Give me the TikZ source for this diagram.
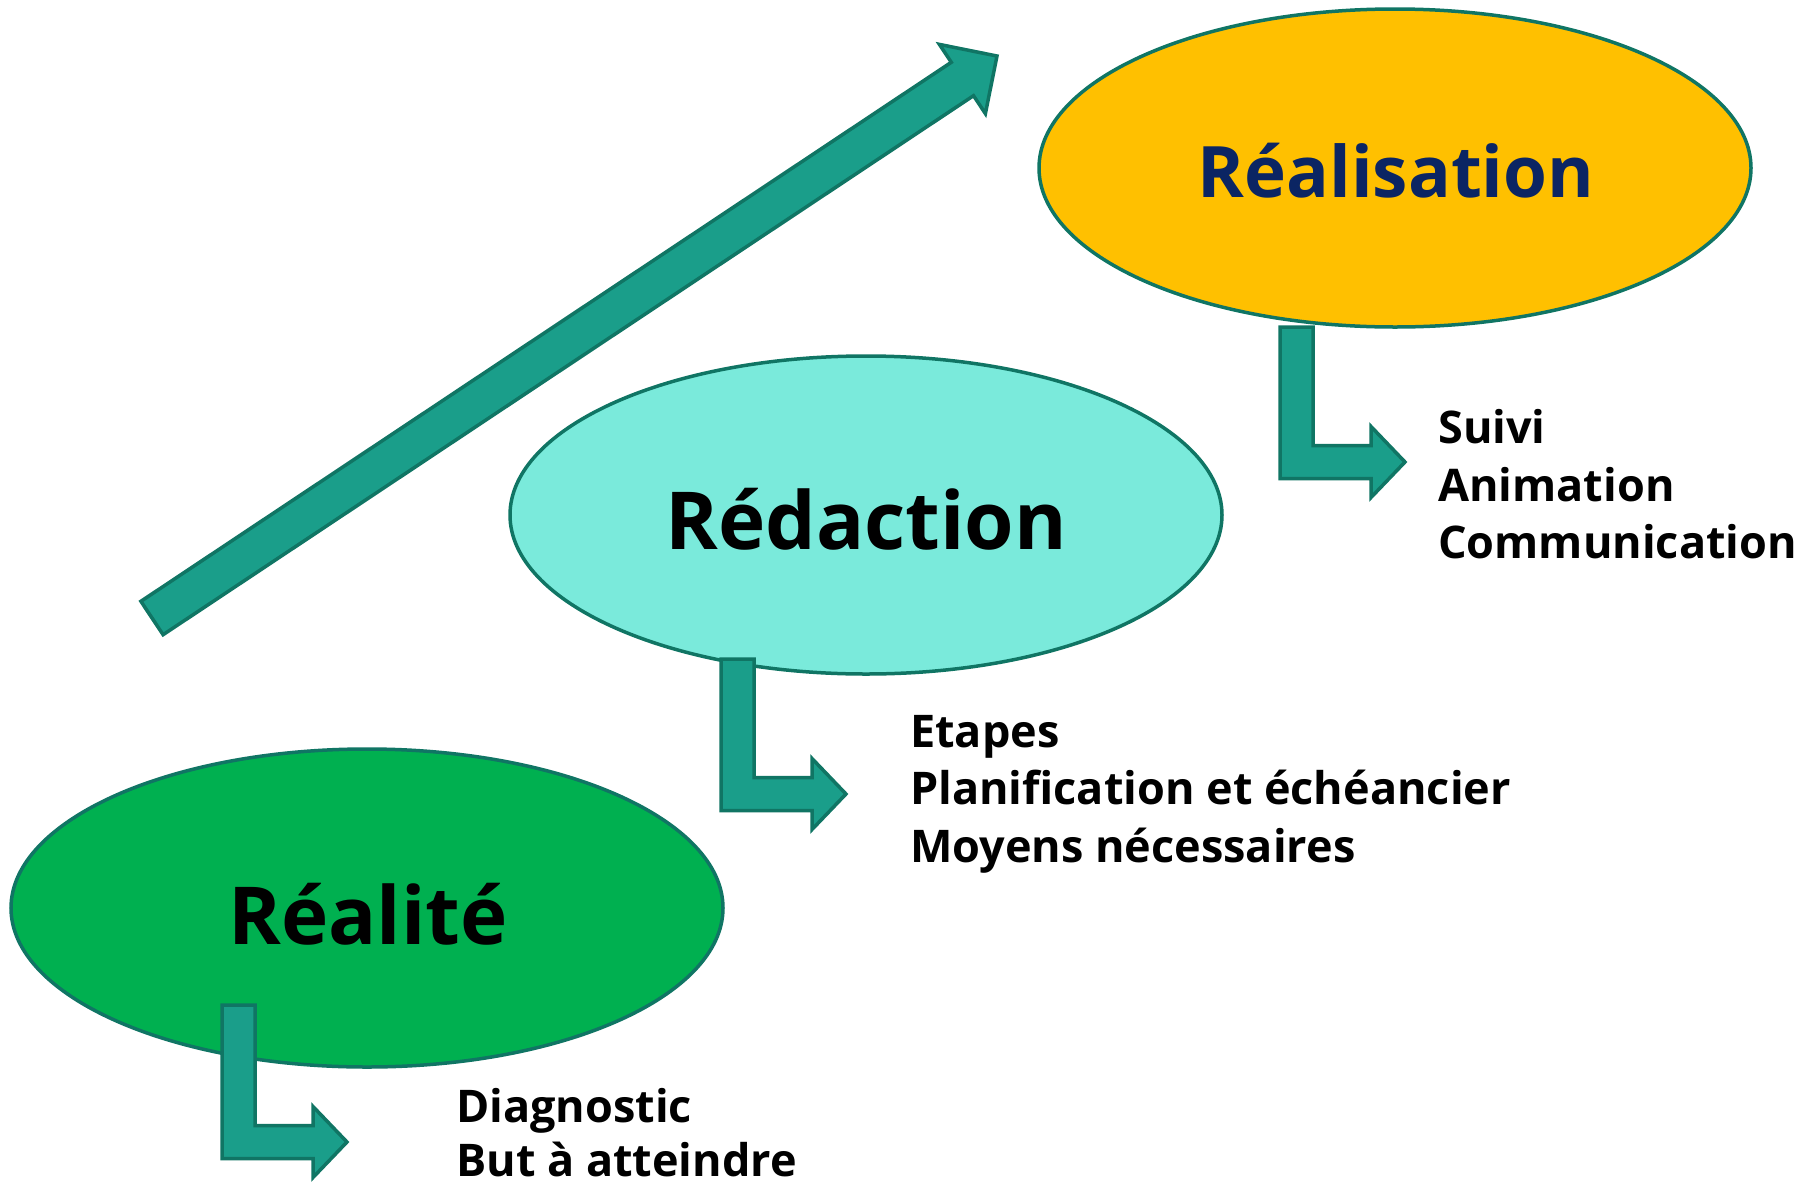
\documentclass[tikz,border=0pt]{standalone}
\usepackage{fontspec}
\setmainfont{Open Sans}
\usetikzlibrary{shapes.geometric}
\definecolor{edge}{HTML}{107564}
\definecolor{arrfill}{HTML}{1A9E8A}
\definecolor{gold}{HTML}{FFC000}
\definecolor{navy}{HTML}{0B2563}
\definecolor{turq}{HTML}{7AEADB}
\definecolor{green}{HTML}{00B050}
\tikzset{
  bubble/.style={ellipse, draw=edge, line width=3.5pt, minimum width=712pt, minimum height=318pt, inner sep=0pt},
  arr/.style={fill=arrfill, draw=edge, line width=3.5pt, line join=miter},
  title/.style={anchor=base, inner sep=0pt, font=\bfseries\fontsize{80}{90}\selectfont},
  item/.style={anchor=base west, inner sep=0pt, font=\bfseries\fontsize{45}{52}\selectfont}
}
\newcommand{\bentarr}[3]{%
  \draw[arr] (#1,#2) -- (#1+33,#2) -- (#1+33,#3-16.5) -- (#1+91,#3-16.5) -- (#1+91,#3-35.5)
    -- (#1+125,#3) -- (#1+91,#3+35.5) -- (#1+91,#3+16.5) -- (#1,#3+16.5) -- cycle;}
\begin{document}
\begin{tikzpicture}[x=1pt,y=-1pt]
\useasboundingbox (0,0) rectangle (1816,1184);
% big rising arrow
\draw[arr] (140.9,601.3) -- (951.3,62.3) -- (939.4,44.4) -- (997,56) -- (985.4,113.6) -- (973.5,95.7) -- (163.1,634.7) -- cycle;
% ellipses
\node[bubble, fill=gold] (real) at (1395,168) {};
\node[bubble, fill=turq] (red) at (866,515) {};
\node[bubble, fill=green] (rea) at (367,908) {};
\node[title, text=navy, font=\bfseries\fontsize{71}{80}\selectfont] (trealis) at (1396,197) {Réalisation};
\node[title] (tredac) at (866,549) {Rédaction};
\node[title] (trealite) at (368,944) {Réalité};
% bent arrows
\bentarr{1280}{327}{462}
\bentarr{721}{659}{794}
\bentarr{222}{1005}{1142}
% lists
\node[item] (s1) at (1438,443) {Suivi};
\node[item] (s2) at (1438,501) {Animation};
\node[item] (s3) at (1438,558) {Communication};
\node[item] (e1) at (910,747) {Etapes};
\node[item] (e2) at (910,804) {Planification et échéancier};
\node[item] (e3) at (910,862) {Moyens nécessaires};
\node[item] (d1) at (456,1122) {Diagnostic};
\node[item] (d2) at (456,1176) {But à atteindre};
\end{tikzpicture}
\end{document}
